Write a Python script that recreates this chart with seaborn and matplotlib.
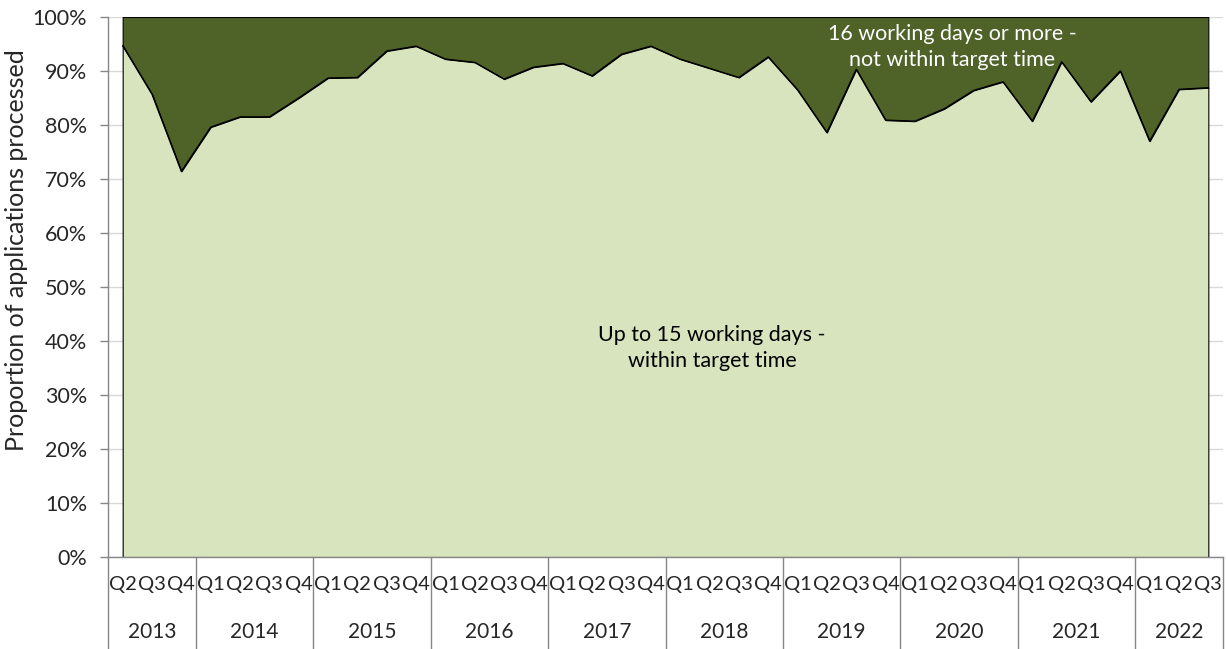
import pandas as pd
import matplotlib
matplotlib.use("Agg")
import matplotlib.pyplot as plt
import matplotlib.transforms as mtransforms
import seaborn as sns

# Quarterly share of applications processed within 15 working days (%)
quarters = ['Q2', 'Q3', 'Q4'] + ['Q1', 'Q2', 'Q3', 'Q4'] * 8 + ['Q1', 'Q2', 'Q3']
year_labels = ['2013', '2014', '2015', '2016', '2017', '2018', '2019', '2020', '2021', '2022']
quarters_per_year = [3, 4, 4, 4, 4, 4, 4, 4, 4, 3]
within_target = [94.7, 85.7, 71.4,
                 79.6, 81.5, 81.5, 85.0,
                 88.7, 88.8, 93.7, 94.6,
                 92.2, 91.6, 88.5, 90.7,
                 91.4, 89.1, 93.1, 94.6,
                 92.2, 90.5, 88.8, 92.6,
                 86.5, 78.6, 90.3, 80.9,
                 80.7, 83.0, 86.4, 88.0,
                 80.7, 91.7, 84.3, 90.0,
                 77.0, 86.6, 86.9]

LIGHT = '#D7E4BD'
DARK = '#4F6228'
AXIS_GREY = '#868686'
FS = 15.5

sns.set_style("white")
plt.rcParams['font.family'] = ['Lato', 'DejaVu Sans']

df = pd.DataFrame({'pos': range(len(within_target)), 'within': within_target})

W, H = 1226, 649
fig = plt.figure(figsize=(W / 100, H / 100), dpi=100)
ax = fig.add_axes([108 / W, 1 - 557 / H, (1223 - 108) / W, 540 / H])

# stacked 100% areas
ax.fill_between(df['pos'], df['within'], 100, facecolor=DARK, edgecolor='black', linewidth=0.8, zorder=2)
ax.fill_between(df['pos'], 0, df['within'], facecolor=LIGHT, edgecolor='black', linewidth=0.8, zorder=2)
sns.lineplot(data=df, x='pos', y='within', color='black', linewidth=1, ax=ax, zorder=3)

ax.set_xlim(-0.5, len(quarters) - 0.5)
ax.set_ylim(0, 100)
ax.set_yticks(range(0, 101, 10))
ax.set_yticklabels([f'{v}%' for v in range(0, 101, 10)], fontsize=FS)
ax.yaxis.grid(True, color='#D9D9D9', linewidth=1, zorder=0)
ax.set_axisbelow(True)
ax.tick_params(axis='y', length=6, width=1, color=AXIS_GREY, pad=9, direction='out', left=True)

ax.set_xticks(range(len(quarters)))
ax.set_xticklabels(quarters, fontsize=14.5)
ax.tick_params(axis='x', length=0, pad=14)
ax.set_xlabel('')
ax.set_ylabel('')

for side in ['top', 'right']:
    ax.spines[side].set_visible(False)
for side in ['left', 'bottom']:
    ax.spines[side].set_color(AXIS_GREY)
    ax.spines[side].set_linewidth(1)

# year grouping on the category axis
trans = mtransforms.blended_transform_factory(ax.transData, ax.transAxes)
depth = -(H - 557) / 540
start = -0.5
ax.plot([start, start], [0, depth], color=AXIS_GREY, lw=1, transform=trans, clip_on=False)
for year, n in zip(year_labels, quarters_per_year):
    end = start + n
    ax.plot([end, end], [0, depth], color=AXIS_GREY, lw=1, transform=trans, clip_on=False)
    ax.text((start + end) / 2, -(632 - 557) / 540, year, transform=trans,
            ha='center', va='center', fontsize=15)
    start = end

fig.text(17 / W, 1 - 250 / H, 'Proportion of applications processed', rotation=90,
         ha='center', va='center', fontsize=18)

fig.text(712 / W, 1 - 348 / H, 'Up to 15 working days -\nwithin target time',
         ha='center', va='center', fontsize=FS, color='black', linespacing=1.4)
fig.text(952 / W, 1 - 47 / H, '16 working days or more -\nnot within target time',
         ha='center', va='center', fontsize=FS, color='white', linespacing=1.4)

fig.savefig('out.png', dpi=100)
